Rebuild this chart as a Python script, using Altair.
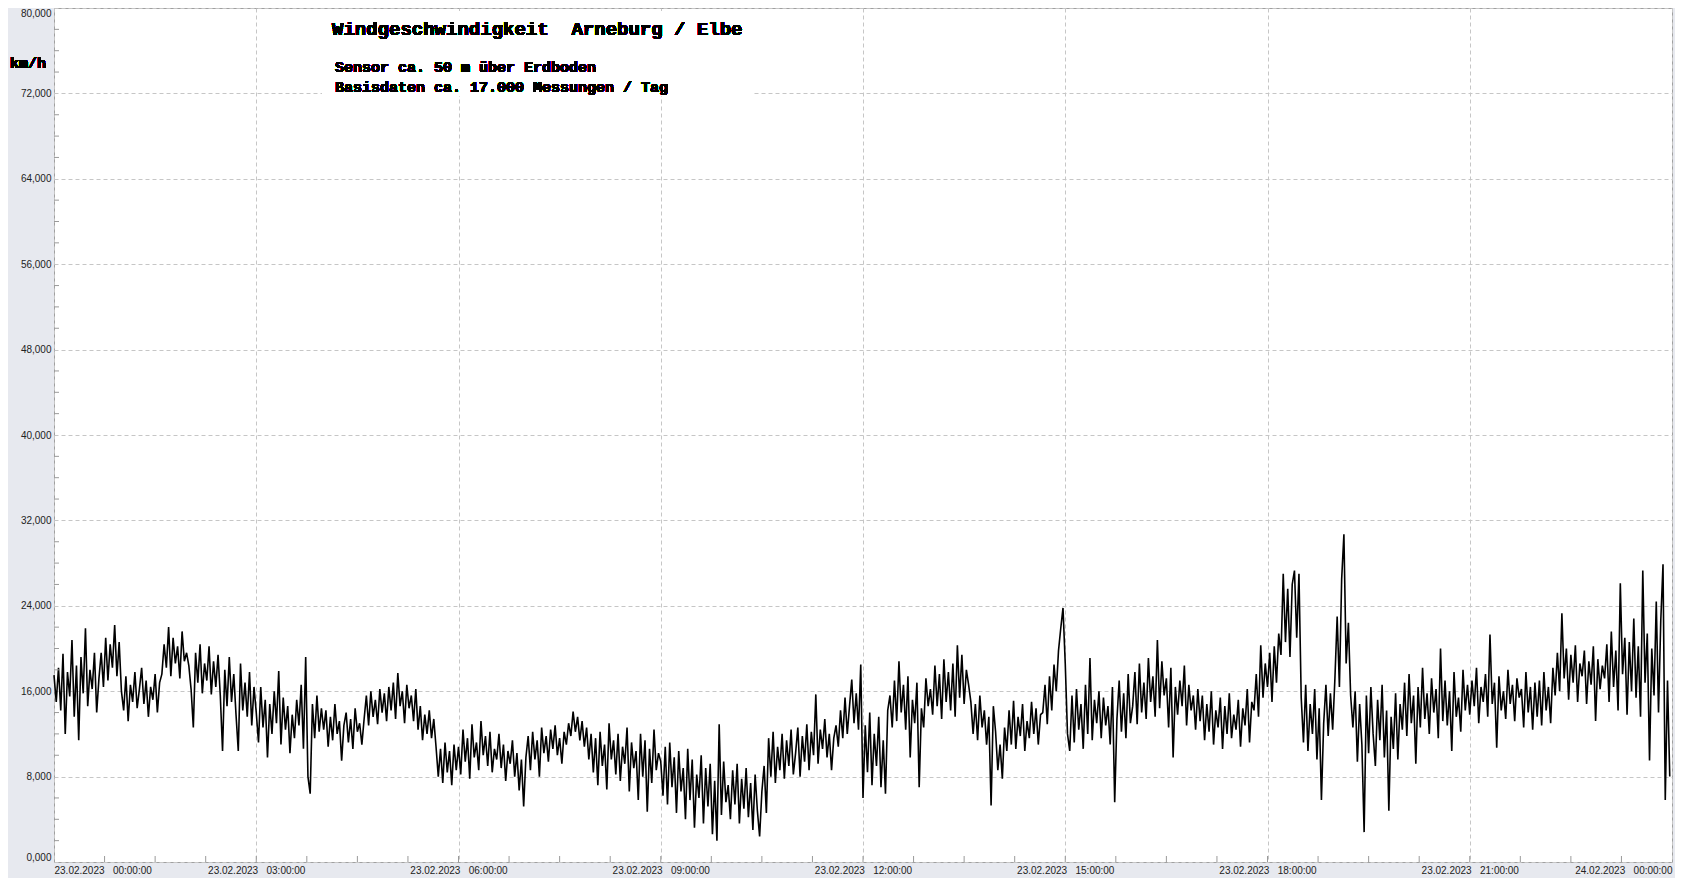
import altair as alt
import pandas as pd

h00 = [17.5,15.0,18.2,14.2,19.5,12.0,17.8,15.5,20.8,13.6,18.4,11.4,19.2,15.8,21.9,14.6,18.0,16.2,19.6,14.0,17.2,19.6,16.4,21.0,17.0,20.4,18.2,22.2,17.4,20.6]
h01 = [16.0,14.2,17.4,13.2,16.6,15.0,17.8,14.4,16.2,18.2,14.8,17.0,13.6,16.4,15.2,17.6,14.0,16.8,17.6,20.4,18.2,22.0,17.4,21.0,18.6,20.2,17.2,21.6,18.8,19.6]
h02 = [18.4,16.2,12.6,19.6,16.8,20.4,15.8,18.6,17.0,20.2,15.7,18.8,16.4,19.4,15.6,10.4,18.0,14.6,19.2,15.0,17.6,13.8,10.4,18.6,14.2,16.8,13.6,17.8,12.8,16.4]
h03 = [14.0,11.2,16.4,12.6,15.2,9.8,14.8,12.0,16.0,13.0,17.9,11.0,15.4,12.4,14.6,10.2,13.8,11.6,15.2,12.8,16.6,10.6,19.2,8.0,6.4,14.8,11.6,15.6,12.2,14.4]
h04 = [12.4,14.2,10.8,13.6,11.4,14.8,12.0,13.2,9.5,12.8,14.0,11.2,13.4,10.6,14.4,12.2,13.0,11.0,13.4,15.6,12.8,16.0,13.6,15.2,12.9,16.2,14.0,15.8,13.2,16.4]
h05 = [14.2,16.8,13.4,17.7,14.6,16.0,13.0,16.6,14.4,15.6,13.2,16.2,12.4,14.6,11.4,13.8,12.0,14.2,11.6,13.4,10.8,8.0,10.6,7.4,11.2,8.4,10.4,7.2,11.0,8.6]
h06 = [10.8,8.2,12.4,9.4,11.6,7.8,12.9,9.8,11.2,8.6,13.2,10.0,11.8,9.0,12.2,8.4,10.6,9.6,12.0,8.8,11.0,7.6,10.4,9.2,11.4,8.0,10.2,6.7,9.6,5.2]
h07 = [9.8,11.8,8.6,12.2,9.6,11.4,8.0,12.6,10.2,11.8,9.4,12.4,10.6,12.8,10.0,11.6,9.2,12.2,11.0,13.0,11.8,14.1,12.2,13.6,11.4,13.2,10.8,12.6,9.6,12.0]
h08 = [8.4,11.6,7.2,12.2,9.0,11.0,6.8,13.0,9.6,11.4,8.2,12.0,7.6,10.8,9.2,12.6,6.6,11.2,8.8,10.4,5.8,12.0,8.0,11.4,4.7,10.6,7.4,12.4,8.6,10.2]
h09 = [9.4,6.2,10.8,5.4,11.2,7.0,9.8,4.6,10.4,6.6,8.8,4.0,10.6,5.8,9.6,3.2,8.2,6.0,10.0,3.6,8.8,5.2,9.2,2.6,7.6,2.0,12.9,4.4,9.4,5.6]
h10 = [7.2,4.0,8.6,5.4,9.2,3.6,7.8,5.0,8.8,4.2,7.4,3.0,8.2,4.8,2.4,6.6,9.0,4.6,11.6,8.0,12.2,7.4,10.8,8.6,12.0,7.8,11.4,9.0,12.4,8.2]
h11 = [10.2,12.6,8.0,11.8,9.4,12.9,8.6,12.2,10.0,15.7,9.2,12.4,10.6,13.4,9.8,12.0,8.6,11.6,12.8,10.8,14.2,11.6,15.4,12.0,14.6,17.1,13.0,15.8,12.4,18.5]
h12 = [6.0,12.8,8.4,14.0,7.2,12.0,9.0,13.6,7.0,11.4,6.4,14.2,15.6,12.6,17.0,13.2,18.8,14.0,16.6,12.4,17.4,9.8,15.2,13.0,16.8,7.0,14.4,12.6,17.2,14.6]
h13 = [16.2,13.8,18.4,14.6,17.6,13.4,19.0,15.0,17.8,14.2,18.6,13.6,20.3,15.4,19.4,14.8,18.0,16.6,15.0,12.0,14.8,11.4,15.6,12.6,14.2,11.0,13.6,5.3,14.6,12.2]
h14 = [8.6,11.0,7.8,12.6,10.4,14.2,11.0,15.1,10.6,13.6,11.8,14.8,10.4,13.2,11.6,15.0,12.0,14.4,11.0,13.8,14.0,16.6,12.9,17.4,14.2,18.5,16.0,19.8,21.9,23.8]
h15 = [18.6,12.0,10.4,15.6,11.2,16.2,12.4,14.8,10.6,16.6,12.0,19.1,11.4,15.2,13.0,16.0,11.6,15.4,12.8,14.6,11.0,16.4,5.6,13.4,17.0,12.2,15.8,11.6,17.6,13.0]
h16 = [14.6,17.8,12.9,18.6,14.0,16.8,13.4,19.1,15.0,17.4,13.6,20.8,14.4,18.8,15.6,17.2,12.6,18.2,9.8,16.4,13.8,17.0,14.6,18.4,12.8,16.6,14.2,15.6,12.4,16.2]
h17 = [13.2,15.6,11.4,14.8,12.2,16.0,11.0,14.2,12.6,15.4,10.6,14.6,12.0,15.8,11.6,13.8,12.4,15.2,10.8,14.4,12.8,16.2,11.2,15.0,14.2,17.6,13.6,20.3,15.4,18.6]
h18 = [16.4,19.6,15.0,20.2,16.8,21.4,19.4,27.0,20.6,25.6,19.2,26.0,27.3,21.0,27.0,15.4,11.2,16.6,10.4,14.8,12.0,16.2,9.6,14.4,5.8,13.0,16.6,11.8,15.8,12.4]
h19 = [17.2,23.0,16.4,26.5,30.7,18.6,22.4,15.6,12.6,16.0,9.4,14.8,11.0,2.8,15.6,10.2,16.4,12.0,9.0,15.2,11.4,16.6,9.8,14.2,4.8,13.6,10.6,15.8,9.6,14.8]
h20 = [12.4,16.8,11.8,17.6,13.0,15.6,9.2,16.4,12.6,18.2,13.4,15.8,12.0,17.2,14.0,16.2,11.6,20.0,13.2,17.0,12.8,16.0,10.4,17.8,13.6,15.4,12.2,18.0,14.2,16.6]
h21 = [13.8,17.0,14.6,18.2,13.0,16.4,15.0,17.6,13.6,21.3,14.8,16.8,10.7,17.4,14.2,16.0,13.4,18.0,14.8,16.6,13.2,17.2,15.4,16.2,12.6,17.8,14.0,16.4,12.4,16.8]
h22 = [13.6,17.0,12.8,17.8,14.2,16.4,13.0,18.2,15.6,19.6,16.0,23.3,17.2,20.0,15.2,19.4,16.8,20.3,15.0,18.6,17.4,19.8,14.8,18.8,16.6,20.2,13.2,19.0,16.2,18.4]
h23 = [17.2,20.4,15.0,21.6,16.4,19.8,14.2,26.1,17.6,21.0,13.8,20.6,16.0,22.8,15.4,20.2,13.6,27.3,16.8,21.4,9.5,20.0,15.6,24.4,14.0,22.6,27.9,5.8,17.0,8.0]

hours = [h00, h01, h02, h03, h04, h05, h06, h07, h08, h09, h10, h11,
         h12, h13, h14, h15, h16, h17, h18, h19, h20, h21, h22, h23]

x_ticks = ["2023-02-23T00:00:00", "2023-02-23T03:00:00", "2023-02-23T06:00:00",
           "2023-02-23T09:00:00", "2023-02-23T12:00:00", "2023-02-23T15:00:00",
           "2023-02-23T18:00:00", "2023-02-23T21:00:00", "2023-02-24T00:00:00"]
y_ticks = [0, 8, 16, 24, 32, 40, 48, 56, 64, 72, 80]
y_minor = [v for v in range(2, 80, 2) if v % 8 != 0]

NB = "\u00a0"
title_text = "Windgeschwindigkeit" + NB + NB + "Arneburg / Elbe"
sub1 = "Sensor ca. 50 m über Erdboden"
sub2 = "Basisdaten ca. 17.000 Messungen / Tag"
unit_text = "km/h"

# ---- tables ----
rows = []
for hi, vals in enumerate(hours):
    base = pd.Timestamp("2023-02-23 00:00:00") + pd.Timedelta(hours=hi)
    for k, v in enumerate(vals):
        rows.append({"zeit": (base + pd.Timedelta(minutes=2 * k)).strftime("%Y-%m-%dT%H:%M:%S"), "kmh": v})
df = pd.DataFrame(rows)

minor_x = pd.DataFrame({"zeit": [t.strftime("%Y-%m-%dT%H:%M:%S") for t in
                                 pd.date_range("2023-02-23 00:45", "2023-02-23 23:15", freq="45min")]})
minor_y = pd.DataFrame({"kmh": y_minor})

W, H = 1618, 854
xscale = alt.Scale(domain=[x_ticks[0], x_ticks[-1]])
yscale = alt.Scale(domain=[0, 80], nice=False, zero=False)

label_font = "Liberation Sans"
mono = "Liberation Mono"

xaxis = alt.Axis(values=x_ticks, title=None, grid=True, gridColor="#c6c6c6", gridDash=[4, 3],
                 ticks=False, domain=False, labelFlush=True, labelOverlap=False, labelAngle=0,
                 labelPadding=3, labelFont=label_font, labelFontSize=10, labelColor="#222222",
                 labelExpr="timeFormat(datum.value, '%d.%m.%Y') + '\u00a0\u00a0\u00a0' + timeFormat(datum.value, '%H:%M:%S')")
yaxis = alt.Axis(values=y_ticks, title=None, grid=True, gridColor="#c6c6c6", gridDash=[4, 3],
                 ticks=False, domain=False, labelFlush=True, labelOverlap=False,
                 labelPadding=3, labelFont=label_font, labelFontSize=10, labelColor="#222222",
                 labelExpr="replace(format(datum.value, '.3f'), '.', ',')")

line = alt.Chart(df).mark_line(color="black", strokeWidth=1.6, strokeJoin="bevel").encode(
    x=alt.X("zeit:T", scale=xscale, axis=xaxis),
    y=alt.Y("kmh:Q", scale=yscale, axis=yaxis),
)

box = alt.Chart(df).mark_rect(color="white").encode(
    x=alt.value(268), x2=alt.value(698), y=alt.value(3), y2=alt.value(88)
)

tx = alt.Chart(minor_x).mark_rule(color="#9a9a9a", strokeWidth=1).encode(
    x=alt.X("zeit:T", scale=xscale, axis=xaxis), y=alt.value(H), y2=alt.value(H - 6)
)
ty = alt.Chart(minor_y).mark_rule(color="#9a9a9a", strokeWidth=1).encode(
    y=alt.Y("kmh:Q", scale=yscale, axis=yaxis), x=alt.value(0), x2=alt.value(5)
)

title = alt.Chart(df).mark_text(align="left", baseline="middle", font=mono, fontSize=19,
                                fontWeight="bold", color="black").encode(
    x=alt.value(278), y=alt.value(21), text=alt.value(title_text))
s1 = alt.Chart(df).mark_text(align="left", baseline="middle", font=mono, fontSize=15,
                             fontWeight="bold", color="black").encode(
    x=alt.value(281), y=alt.value(59), text=alt.value(sub1))
s2 = alt.Chart(df).mark_text(align="left", baseline="middle", font=mono, fontSize=15,
                             fontWeight="bold", color="black").encode(
    x=alt.value(281), y=alt.value(79), text=alt.value(sub2))
unit = alt.Chart(df).mark_text(align="center", baseline="middle", font=mono, fontSize=15,
                               fontWeight="bold", color="black").encode(
    x=alt.value(-26), y=alt.value(55), text=alt.value(unit_text))

chart = alt.layer(box, line, tx, ty, title, s1, s2, unit).properties(
    width=W, height=H,
    autosize=alt.AutoSizeParams(type="none"),
    padding={"left": 46, "top": 0, "right": 3, "bottom": 16},
).configure(background="#e7e9ef").configure_view(fill="white", stroke="#a0a0a0", strokeWidth=1)

chart.save("out.html", embed_options={"renderer": "svg", "actions": False})
